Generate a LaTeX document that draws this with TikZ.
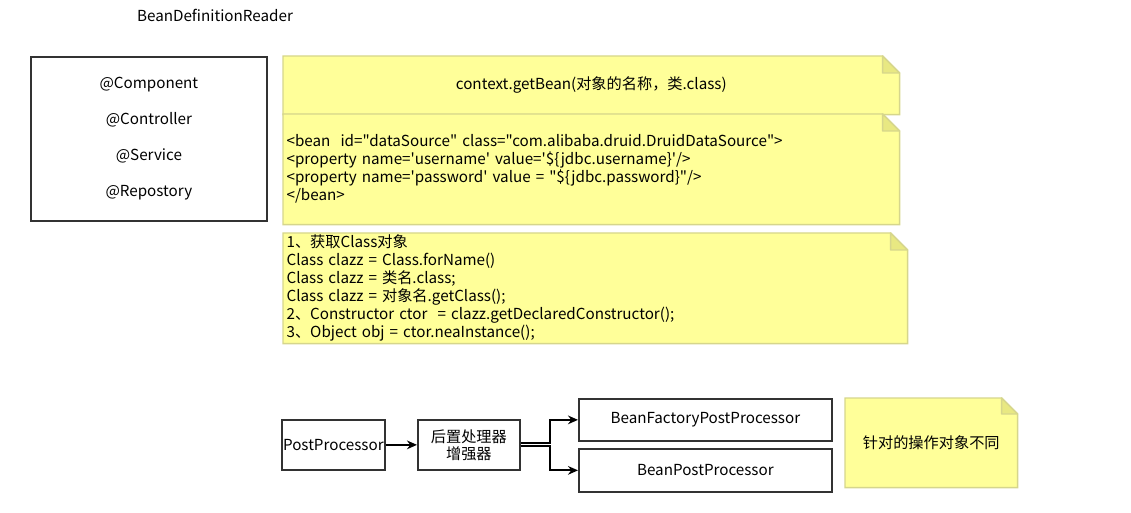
\documentclass[tikz,border=0pt]{standalone}
\usepackage{fontspec}
\newfontfamily\cjk{Noto Sans CJK SC}
\usetikzlibrary{arrows.meta,backgrounds}
\definecolor{notefill}{RGB}{255,255,153}
\definecolor{notedraw}{RGB}{214,214,140}
\definecolor{notefold}{RGB}{232,232,130}
\definecolor{boxdraw}{RGB}{50,50,50}
\newcommand\drawnote[2]{%
  \draw[notedraw, line width=1.1pt, fill=notefill] (#1.north west) -- ([xshift=-#2]#1.north east) -- ([yshift=-#2]#1.north east) -- (#1.south east) -- (#1.south west) -- cycle;
  \draw[notedraw, line width=1.1pt, fill=notefold, line join=round] ([xshift=-#2]#1.north east) -- ([xshift=-#2,yshift=-#2]#1.north east) -- ([yshift=-#2]#1.north east) -- cycle;}
\begin{document}
\begin{tikzpicture}[x=0.75pt,y=-0.75pt,
  txt/.style={font=\cjk\fontsize{11.4pt}{13.5pt}\selectfont, inner sep=0pt},
  box/.style={draw=boxdraw, line width=1.3pt, fill=white, anchor=north west, inner sep=0pt, align=center, font=\cjk\fontsize{11.4pt}{12.75pt}\selectfont},
  note/.style={anchor=north west, inner ysep=0pt, inner xsep=2pt, font=\cjk\fontsize{11.4pt}{13.5pt}\selectfont},
  conn/.style={line width=1.4pt, -{Stealth[length=7.5pt,width=6.5pt]}}]
\useasboundingbox (0,0) rectangle (1131,513);

\node[txt] (title) at (215,15) {BeanDefinitionReader};

\node[box, minimum width=177pt, minimum height=123pt, font=\cjk\fontsize{11.4pt}{27pt}\selectfont] (ann) at (30,56)
  {@Component\\@Controller\\@Service\\@Repostory};

\node[note, minimum width=462pt, minimum height=43.5pt, align=center] (n1) at (283,56)
  {context.getBean(对象的名称，类.class)};
\node[note, minimum width=462pt, minimum height=82.5pt, text width=457pt, align=left] (n2) at (283,114)
  {<bean\ \ id="dataSource" class="com.alibaba.druid.DruidDataSource">\\
   <property name='username' value='\$\{jdbc.username\}'/>\\
   <property name='password' value = "\$\{jdbc.password\}"/>\\
   </bean>};
\node[note, minimum width=468pt, minimum height=82.5pt, text width=463pt, align=left, inner xsep=1.5pt] (n3) at (283,233)
  {1、获取Class对象\\
   Class clazz = Class.forName()\\
   Class clazz = 类名.class;\\
   Class clazz = 对象名.getClass();\\
   2、Constructor ctor\ \ = clazz.getDeclaredConstructor();\\
   3、Object obj = ctor.neaInstance();};
\node[note, minimum width=129pt, minimum height=66.75pt, align=center] (n4) at (845,398)
  {针对的操作对象不同};

\begin{scope}[on background layer]
  \drawnote{n1}{12.75pt}
  \drawnote{n2}{12.75pt}
  \drawnote{n3}{12.75pt}
  \drawnote{n4}{12pt}
\end{scope}

\node[box, minimum width=77.25pt, minimum height=37.5pt] (pp) at (281,419) {PostProcessor};
\node[box, minimum width=76.5pt, minimum height=37.5pt] (hz) at (417,419) {后置处理器\\增强器};
\node[box, minimum width=189.75pt, minimum height=31.5pt] (bf) at (578,398) {BeanFactoryPostProcessor};
\node[box, minimum width=189.75pt, minimum height=32.25pt] (bp) at (578,448) {BeanPostProcessor};

\draw[conn] (pp) -- (hz);
\draw[conn] ([yshift=1.1pt]hz.east) -- ++(29,0) |- (bf.west);
\draw[conn] ([yshift=-1.1pt]hz.east) -- ++(29,0) |- (bp.west);
\end{tikzpicture}
\end{document}
